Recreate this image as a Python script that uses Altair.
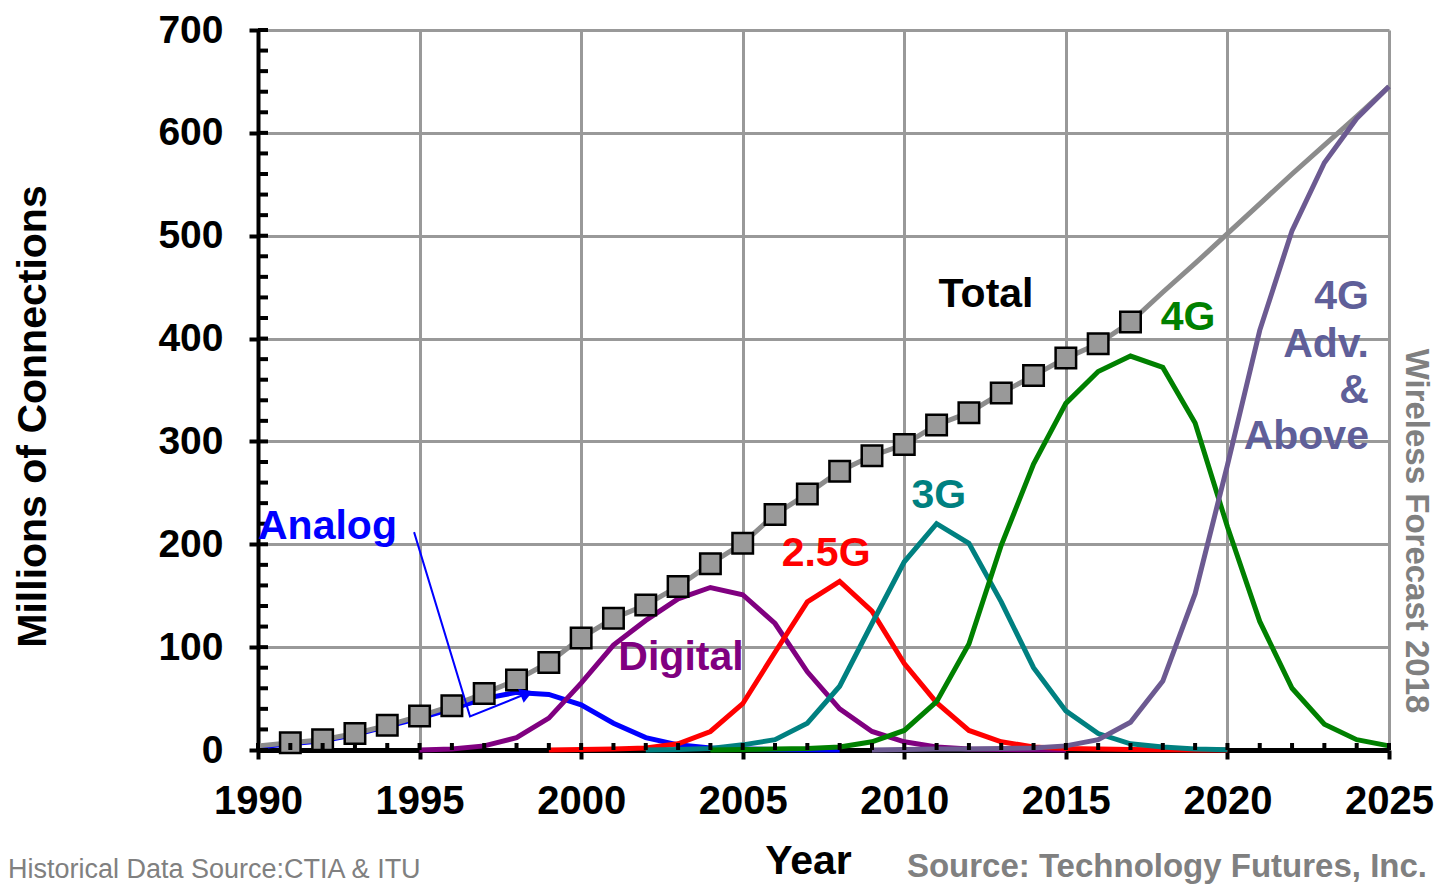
import altair as alt
import pandas as pd

FONT = "Liberation Sans"

# ---------------- data ----------------
total_start = 1990
total_vals = [4, 7, 10, 16, 24, 33, 43, 55, 68, 85, 109, 128, 141, 159, 181, 201,
              229, 249, 271, 286, 297, 316, 328, 347, 364, 381, 395, 416,
              445, 473, 502, 531, 560, 588, 616, 645]
marker_years = list(range(1991, 2018))

analog_start = 1990
analog_vals = [3, 6, 9, 15, 23, 31, 40, 50, 56, 54, 44, 26, 12, 5, 2, 1, 0.5, 0.2, 0]

digital_start = 1995
digital_vals = [0, 1, 4, 12, 31, 65, 102, 126, 147, 158, 151, 123, 76, 40, 18, 8,
                3, 1, 0.5, 0.2, 0]

g25_start = 1999
g25_vals = [0, 0.5, 1, 2, 6, 18, 45, 95, 144, 164, 135, 84, 46, 19, 8, 3, 1.5, 1,
            0.5, 0.3, 0.1, 0]

g3_start = 2002
g3_vals = [0, 0.5, 1.5, 5, 10, 26, 62, 123, 183, 220, 201, 144, 80, 38, 16, 6, 3,
           1, 0.3]

g4_start = 2004
g4_vals = [0, 0.5, 1, 1.5, 3, 8, 19, 47, 103, 199, 278, 337, 368, 383, 372, 318,
           217, 125, 60, 25, 10, 4]

g4a_start = 2009
g4a_vals = [0, 0.5, 1, 1, 1.5, 2, 4, 10, 27, 67, 152, 277, 408, 505, 571, 614, 645]

series_names = ["Analog", "Digital", "2.5G", "3G", "4G", "4G Adv."]
series_colors = ["#0000FF", "#800080", "#FF0000", "#008080", "#008000", "#6C5A91"]

x_ticks = [1990, 1995, 2000, 2005, 2010, 2015, 2020, 2025]
y_ticks = [0, 100, 200, 300, 400, 500, 600, 700]
x_minor = list(range(1990, 2026))
y_minor = list(range(0, 701, 20))

# label texts (anchored in data units)
lab_text = ["Total", "4G", "3G", "2.5G", "Digital"]
lab_x = [2012.53, 2018.78, 2011.07, 2007.58, 2003.09]
lab_y = [442, 420, 247, 190.6, 89.5]
lab_color = ["#000000", "#008000", "#008080", "#FF0000", "#800080"]

adv_text = ["4G", "Adv.", "&", "Above"]
adv_x = [2024.38, 2024.38, 2024.38, 2024.38]
adv_y = [440, 394, 349.5, 304]

analog_lab_x = [1990.0]
analog_lab_y = [216.6]

arrow_x = [1994.83, 1996.56, 1998.32]
arrow_y = [211.8, 32.7, 54.9]

# ---------------- frames ----------------
def block(name, start, vals):
    return [{"series": name, "year": start + i, "value": v} for i, v in enumerate(vals)]

rows = []
for nm, st, vv in [("Analog", analog_start, analog_vals),
                   ("Digital", digital_start, digital_vals),
                   ("2.5G", g25_start, g25_vals),
                   ("3G", g3_start, g3_vals),
                   ("4G", g4_start, g4_vals),
                   ("4G Adv.", g4a_start, g4a_vals)]:
    rows += block(nm, st, vv)
df = pd.DataFrame(rows)

total_df = pd.DataFrame({"year": [total_start + i for i in range(len(total_vals))],
                         "value": total_vals})
marker_df = total_df[total_df["year"].isin(marker_years)]

PLOT_H = 720
TOP = 22
OFF = 8 + TOP  # page y of plot top

xs = alt.Scale(domain=[1990, 2025], nice=False, zero=False)
ys = alt.Scale(domain=[0, 700], nice=False)

xaxis = alt.Axis(values=x_ticks, format="d", grid=True, gridColor="#999999", gridWidth=3,
                 domainColor="black", domainWidth=5, tickColor="black", tickWidth=4,
                 tickSize=9, labelFont=FONT, labelFontSize=40, labelFontWeight="bold",
                 labelColor="black", labelPadding=22, labelFlush=False,
                 title="Year", titleFont=FONT, titleFontSize=41, titleFontWeight="bold",
                 titleColor="black", titleX=550, titleY=111, titleBaseline="middle",
                 titleAlign="center")
yaxis = alt.Axis(values=y_ticks, grid=True, gridColor="#999999", gridWidth=3,
                 domainColor="black", domainWidth=4, tickColor="black", tickWidth=4,
                 tickSize=9, labelFont=FONT, labelFontSize=39, labelFontWeight="bold",
                 labelColor="black", labelPadding=26, labelFlush=False,
                 title="Millions of Connections", titleFont=FONT, titleFontSize=41,
                 titleFontWeight="bold", titleColor="black", titleAngle=270,
                 titleX=-225, titleY=416 - OFF, titleBaseline="middle", titleAlign="center")

X = lambda f="year": alt.X(f"{f}:Q", scale=xs, axis=xaxis)
Y = lambda f="value": alt.Y(f"{f}:Q", scale=ys, axis=yaxis)

total_line = alt.Chart(total_df).mark_line(color="#8C8C8C", strokeWidth=5).encode(
    x=X(), y=Y())

analog_line = alt.Chart(df[df.series == "Analog"]).mark_line(strokeWidth=5).encode(
    x=X(), y=Y(),
    color=alt.Color("series:N", scale=alt.Scale(domain=series_names, range=series_colors),
                    legend=None))

other_lines = alt.Chart(df[df.series != "Analog"]).mark_line(strokeWidth=5).encode(
    x=X(), y=Y(),
    color=alt.Color("series:N", scale=alt.Scale(domain=series_names, range=series_colors),
                    legend=None),
    detail="series:N")

markers = alt.Chart(marker_df).mark_point(shape="square", filled=True, size=420,
                                          fill="#999999", stroke="black",
                                          strokeWidth=2.5, opacity=1).encode(x=X(), y=Y())

# minor ticks
xminor = alt.Chart(pd.DataFrame({"year": x_minor})).mark_rule(
    color="black", strokeWidth=4).encode(x=X(), y=alt.value(PLOT_H),
                                         y2=alt.value(PLOT_H - 7))
yminor = alt.Chart(pd.DataFrame({"value": y_minor})).mark_rule(
    color="black", strokeWidth=4).encode(y=Y(), x=alt.value(0), x2=alt.value(10))

# labels
lab_df = pd.DataFrame({"year": lab_x, "value": lab_y, "t": lab_text, "c": lab_color})
labels = alt.Chart(lab_df).mark_text(font=FONT, fontSize=41, fontWeight="bold",
                                     align="center", baseline="middle").encode(
    x=X(), y=Y(), text="t:N", color=alt.Color("c:N", scale=None))

adv_df = pd.DataFrame({"year": adv_x, "value": adv_y, "t": adv_text})
adv_labels = alt.Chart(adv_df).mark_text(font=FONT, fontSize=41, fontWeight="bold",
                                         align="right", baseline="middle",
                                         color="#5F5F99").encode(
    x=X(), y=Y(), text="t:N")

analog_df = pd.DataFrame({"year": analog_lab_x, "value": analog_lab_y, "t": ["Analog"]})
analog_label = alt.Chart(analog_df).mark_text(font=FONT, fontSize=41, fontWeight="bold",
                                              align="left", baseline="middle",
                                              color="#0000FF").encode(
    x=X(), y=Y(), text="t:N")

arrow_df = pd.DataFrame({"year": arrow_x, "value": arrow_y, "o": [0, 1, 2]})
arrow_line = alt.Chart(arrow_df).mark_line(color="#0000FF", strokeWidth=2).encode(
    x=X(), y=Y(), order="o:Q")
arrow_head = alt.Chart(arrow_df[arrow_df.o == 2]).mark_point(
    shape="triangle-right", filled=True, size=220, color="#0000FF", opacity=1,
    angle=338).encode(x=X(), y=Y())

# outside notes
wf = alt.Chart(pd.DataFrame({"t": ["Wireless Forecast  2018"]})).mark_text(
    font=FONT, fontSize=33, fontWeight="bold", color="#808080", angle=90,
    align="center", baseline="alphabetic").encode(
    text="t:N", x=alt.value(1148), y=alt.value(531 - OFF))
src = alt.Chart(pd.DataFrame({"t": ["Source: Technology Futures, Inc."]})).mark_text(
    font=FONT, fontSize=33, fontWeight="bold", color="#808080",
    align="right", baseline="alphabetic").encode(
    text="t:N", x=alt.value(1169), y=alt.value(877 - OFF))
hist = alt.Chart(pd.DataFrame({"t": ["Historical Data Source:CTIA &  ITU"]})).mark_text(
    font=FONT, fontSize=27, color="#808080",
    align="left", baseline="alphabetic").encode(
    text="t:N", x=alt.value(-250), y=alt.value(878 - OFF))

chart = alt.layer(
    analog_line, total_line, other_lines, markers, xminor, yminor,
    labels, adv_labels, analog_label, arrow_line, arrow_head, wf, src, hist
).properties(
    width=1131, height=PLOT_H,
    autosize=alt.AutoSizeParams(type="none"),
    padding={"left": 250, "top": TOP, "right": 49, "bottom": 135},
    background="white",
).configure_view(stroke=None)

chart.save("out.html", embed_options={"renderer": "svg", "actions": False})
